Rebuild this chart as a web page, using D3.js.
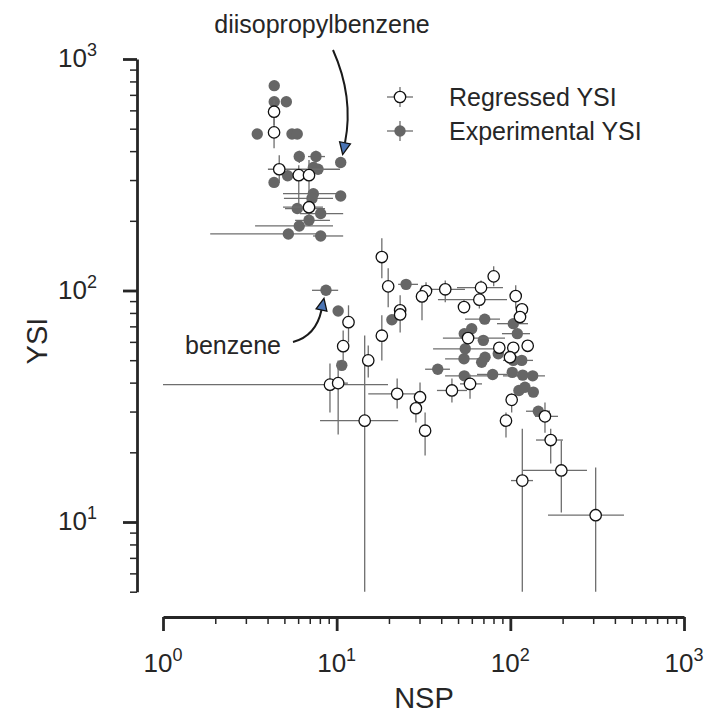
<!DOCTYPE html>
<html>
<head>
<meta charset="utf-8">
<script src="https://cdn.jsdelivr.net/npm/d3@7"></script>
<style>
  html, body { margin: 0; padding: 0; background: #fff; }
  svg { display: block; font-family: "Liberation Sans", Arial, Helvetica, sans-serif; }
</style>
</head>
<body>
<svg id="chart" width="704" height="718"></svg>
<script>
// ---- Regressed YSI (open markers): value and error-bar bounds ----
const regressedNSP = [4.36, 4.36, 4.67, 6.05, 6.93, 6.93, 9.15, 10.2, 10.9, 11.7,
  14.5, 15.2, 18.2, 18.2, 19.8, 23.2, 23.2, 22.3, 30.2, 28.6,
  32.3, 32.7, 31.0, 42.2, 46.1, 54.1, 58.6, 57.1, 67.8, 66.3,
  80.2, 86.4, 104.0, 125.9, 99.5, 107.4, 116.7, 113.7, 101.8, 94.4,
  158.3, 170.8, 196.6, 117.2, 310.0];
const regressedYSI = [592, 482, 334, 315, 315, 229, 39.2, 39.8, 57.5, 73.0,
  27.4, 49.9, 63.8, 139.5, 104.2, 82.1, 78.8, 35.8, 34.6, 31.0,
  24.8, 99.4, 94.3, 101.2, 37.0, 84.8, 39.5, 62.3, 102.9, 91.3,
  115.1, 56.6, 56.6, 57.7, 51.5, 94.6, 82.9, 76.8, 33.7, 27.4,
  28.6, 22.6, 16.7, 15.1, 10.7];
const regressedNSPLow = [null, null, 4.02, null, null, 4.91, 1.0, 9.15, null, null,
  8.02, null, null, null, null, null, null, 15.2, null, null,
  null, null, null, 34.5, 37.8, null, 51.3, 40.9, 49.3, 38.3,
  null, null, null, null, null, null, null, null, null, null,
  138.7, 140.5, 118.3, 100.9, 164.8];
const regressedNSPHigh = [null, null, 10.45, null, null, 8.34, 19.75, 11.6, null, null,
  22.6, null, null, null, null, null, null, 30.2, null, null,
  null, null, null, 54.8, 56.3, null, 68.7, 93.2, 90.7, 95.7,
  null, null, null, null, null, null, null, null, null, null,
  188.1, 201.0, 276.3, 135.1, 451.2];
const regressedYSILow = [518, 412, 291, 238, 229, 205, 29.7, 23.9, 48.9, 59.7,
  2, 42.1, 49.9, 112.9, 84.6, null, 65.9, 30.9, 29.7, 26.9,
  19.4, 90.7, 74.3, 88.9, 32.8, 79.6, 34.1, 57.3, 94.3, 83.7,
  104.2, null, null, null, null, 83.7, null, null, 29.7, 23.2,
  24.3, 17.9, 11.0, 2, 2];
const regressedYSIHigh = [665, 556, 384, 348, 366, 251, 48.4, 49.9, 67.2, 86.3,
  64.0, 57.9, 78.1, 168, 124.7, null, 95.3, 41.7, 40.1, 34.1,
  29.7, 108.5, 105.3, 110.6, 41.7, 90.7, 43.4, 67.2, 110.6, 98.2,
  127.2, null, null, null, null, 105.3, null, null, 35.9, 29.7,
  32.8, 25.3, 22.5, 25.3, 17.2];

// ---- Experimental YSI (filled markers) ----
const experimentalNSP = [4.37, 4.37, 5.13, 3.49, 5.53, 5.93, 6.09, 7.60, 10.55, 7.34,
  7.81, 5.22, 4.36, 7.34, 10.55, 7.21, 5.93, 8.09, 6.93, 6.09,
  5.27, 8.09, 8.68, 10.2, 10.7, 25.1, 20.8, 38.2, 54.3, 71.2,
  59.9, 54.3, 69.9, 55.0, 54.1, 71.5, 68.4, 85.2, 79.1, 104.0,
  109.7, 104.0, 116.3, 102.6, 117.8, 134.5, 112.1, 121.4, 135.6, 144.9];
const experimentalYSI = [767, 654, 654, 474, 474, 474, 379, 379, 357, 340,
  334, 313, 293, 262, 256, 250, 226, 215, 201, 190,
  175.5, 172, 100.2, 81.5, 47.5, 106.3, 74.8, 45.7, 42.8, 75.2,
  68.4, 65.1, 60.9, 56.0, 50.7, 51.5, 49.0, 53.3, 43.4, 71.9,
  65.1, 49.9, 49.9, 44.3, 43.1, 42.8, 37.0, 38.2, 36.4, 30.1];
const experimentalNSPLow = [null, null, null, null, null, null, null, 6.84, null, null,
  null, null, null, 4.91, null, 4.97, 5.04, 6.15, 5.76, 3.39,
  1.87, 7.31, 7.21, null, null, 22.6, null, 32.3, 42.1, 54.8,
  null, null, null, 35.9, 42.1, null, null, null, 64.3, 83.8,
  89.5, null, 90.7, null, null, 90.7, null, null, null, 123.1];
const experimentalNSPHigh = [null, null, null, null, null, null, null, 8.57, null, null,
  null, null, null, 10.45, null, 9.53, 8.57, 10.9, 9.15, 9.53,
  8.23, 10.9, 10.2, null, null, 29.4, null, 44.9, 81.6, 87.2,
  null, null, null, 90.7, 73.4, null, null, null, 95.7, 126.4,
  129.8, null, 135.1, null, null, 158.3, null, null, null, 169.2];
const experimentalYSILow = [null, null, null, null, null, null, 355, 355, null, null,
  null, null, null, null, null, null, null, null, null, null,
  null, null, null, null, null, null, null, null, null, null,
  null, null, null, null, null, null, null, null, null, null,
  null, null, null, null, null, null, null, null, null, null];
const experimentalYSIHigh = [null, null, null, null, null, null, 401, 401, null, null,
  null, null, null, null, null, null, null, null, null, null,
  null, null, null, null, null, null, null, null, null, null,
  null, null, null, null, null, null, null, null, null, null,
  null, null, null, null, null, null, null, null, null, null];

// ---- Axes ----
const xMajorTicks = [1, 10, 100, 1000];
const xTickExponents = ["0", "1", "2", "3"];
const yMajorTicks = [10, 100, 1000];
const yTickExponents = ["1", "2", "3"];
const legendLabels = ["Regressed YSI", "Experimental YSI"];

const INK = "#262626";
const BAR = "#6e6e6e";
const FILL = "#666666";

const svg = d3.select("#chart");

const x = d3.scaleLog().domain([1, 1000]).range([163, 684]);
const y = d3.scaleLog().domain([5, 1000]).range([591.7, 59]);

const zip = (n, v, xl, xh, yl, yh) => n.map((d, i) => ({
  nsp: d, ysi: v[i], xlo: xl[i], xhi: xh[i], ylo: yl[i], yhi: yh[i]
}));
const regressed = zip(regressedNSP, regressedYSI, regressedNSPLow, regressedNSPHigh, regressedYSILow, regressedYSIHigh);
const experimental = zip(experimentalNSP, experimentalYSI, experimentalNSPLow, experimentalNSPHigh, experimentalYSILow, experimentalYSIHigh);

svg.append("clipPath").attr("id", "plot-clip")
  .append("rect").attr("x", 163).attr("y", 0).attr("width", 541).attr("height", 591.7);

const plot = svg.append("g").attr("clip-path", "url(#plot-clip)");

function drawSeries(data, filled) {
  const g = plot.append("g");
  const bars = g.append("g").attr("stroke", BAR).attr("stroke-width", 1.3).attr("fill", "none");
  bars.selectAll("line.h").data(data.filter(d => d.xlo != null)).join("line")
    .attr("class", "h")
    .attr("x1", d => x(d.xlo)).attr("x2", d => x(d.xhi))
    .attr("y1", d => y(d.ysi)).attr("y2", d => y(d.ysi));
  bars.selectAll("line.v").data(data.filter(d => d.ylo != null)).join("line")
    .attr("class", "v")
    .attr("x1", d => x(d.nsp)).attr("x2", d => x(d.nsp))
    .attr("y1", d => y(d.ylo)).attr("y2", d => y(d.yhi));
  g.append("g").selectAll("circle").data(data).join("circle")
    .attr("cx", d => x(d.nsp)).attr("cy", d => y(d.ysi))
    .attr("r", 5.7)
    .attr("fill", filled ? FILL : "#fff")
    .attr("stroke", filled ? "none" : "#111")
    .attr("stroke-width", filled ? 0 : 1.3);
}
drawSeries(experimental, true);
drawSeries(regressed, false);

// ---- Axes (offset spines, outward ticks) ----
function styleAxis(g, width) {
  g.selectAll("text").remove();
  g.selectAll(".tick line").attr("stroke", INK).attr("stroke-width", width);
  g.select(".domain").attr("stroke", INK).attr("stroke-width", 2.8);
}
const yMinor = y.ticks().filter(v => !yMajorTicks.includes(v));
const xMinor = x.ticks().filter(v => !xMajorTicks.includes(v));

const yAxisG = svg.append("g").attr("transform", "translate(137,0)");
yAxisG.append("g").call(d3.axisLeft(y).tickValues(yMinor).tickSize(7).tickSizeOuter(0).tickFormat(""))
  .call(g => styleAxis(g, 1.5));
yAxisG.append("g").call(d3.axisLeft(y).tickValues(yMajorTicks).tickSize(14).tickSizeOuter(0).tickFormat(""))
  .call(g => { styleAxis(g, 2.8); g.select(".domain").remove(); });

const xAxisG = svg.append("g").attr("transform", "translate(0,617)");
xAxisG.append("g").call(d3.axisBottom(x).tickValues(xMinor).tickSize(7).tickSizeOuter(0).tickFormat(""))
  .call(g => styleAxis(g, 1.5));
xAxisG.append("g").call(d3.axisBottom(x).tickValues(xMajorTicks).tickSize(14).tickSizeOuter(0).tickFormat(""))
  .call(g => { styleAxis(g, 2.8); g.select(".domain").remove(); });

function powerLabel(t, exp) {
  t.append("tspan").text("10");
  t.append("tspan").attr("dy", -11).attr("font-size", 18).text(exp);
}
yMajorTicks.forEach((v, i) => {
  const t = svg.append("text").attr("x", 97).attr("y", y(v) + 8)
    .attr("text-anchor", "end").attr("font-size", 26).attr("fill", INK);
  powerLabel(t, yTickExponents[i]);
});
xMajorTicks.forEach((v, i) => {
  const t = svg.append("text").attr("x", x(v)).attr("y", 672)
    .attr("text-anchor", "middle").attr("font-size", 26).attr("fill", INK);
  powerLabel(t, xTickExponents[i]);
});

svg.append("text").attr("x", 424).attr("y", 708).attr("text-anchor", "middle")
  .attr("font-size", 29).attr("fill", INK).text("NSP");
svg.append("text").attr("transform", "translate(47,341) rotate(-90)").attr("text-anchor", "middle")
  .attr("font-size", 29).attr("fill", INK).text("YSI");

// ---- Legend ----
const legend = svg.append("g");
legendLabels.forEach((label, i) => {
  const ly = 97 + i * 34, lx = 400;
  const row = legend.append("g");
  row.append("line").attr("x1", lx - 13).attr("x2", lx + 13).attr("y1", ly).attr("y2", ly)
    .attr("stroke", BAR).attr("stroke-width", 1.3);
  row.append("line").attr("x1", lx).attr("x2", lx).attr("y1", ly - 10).attr("y2", ly + 10)
    .attr("stroke", BAR).attr("stroke-width", 1.3);
  row.append("circle").attr("cx", lx).attr("cy", ly).attr("r", 5.7)
    .attr("fill", i === 0 ? "#fff" : FILL)
    .attr("stroke", i === 0 ? "#111" : "none").attr("stroke-width", 1.3);
  row.append("text").attr("x", 449).attr("y", ly).attr("dy", "0.36em")
    .attr("font-size", 25).attr("fill", INK).text(label);
});

// ---- Annotations with curved arrows ----
function curvedArrow(s, c, e) {
  const dx = e[0] - c[0], dy = e[1] - c[1];
  const len = Math.hypot(dx, dy);
  const ux = dx / len, uy = dy / len;
  const L = 12, W = 5.5;
  const bx = e[0] - ux * L, by = e[1] - uy * L;
  svg.append("path")
    .attr("d", `M${s[0]},${s[1]} Q${c[0]},${c[1]} ${bx},${by}`)
    .attr("fill", "none").attr("stroke", "#1a1a1a").attr("stroke-width", 2);
  svg.append("path")
    .attr("d", `M${e[0]},${e[1]} L${bx - uy * W},${by + ux * W} L${bx + uy * W},${by - ux * W} Z`)
    .attr("fill", "#4a74b4").attr("stroke", "#111").attr("stroke-width", 1.3);
}

const dipbX = x(experimentalNSP[8]), dipbY = y(experimentalYSI[8]);
svg.append("text").attr("x", 322).attr("y", 33).attr("text-anchor", "middle")
  .attr("font-size", 25).attr("fill", INK).text("diisopropylbenzene");
curvedArrow([333, 50], [354, 97], [dipbX + 2, dipbY - 8]);

const bzX = x(experimentalNSP[22]), bzY = y(experimentalYSI[22]);
svg.append("text").attr("x", 233).attr("y", 354).attr("text-anchor", "middle")
  .attr("font-size", 25).attr("fill", INK).text("benzene");
curvedArrow([293, 342], [316, 336], [bzX - 2, bzY + 8]);
</script>
</body>
</html>
